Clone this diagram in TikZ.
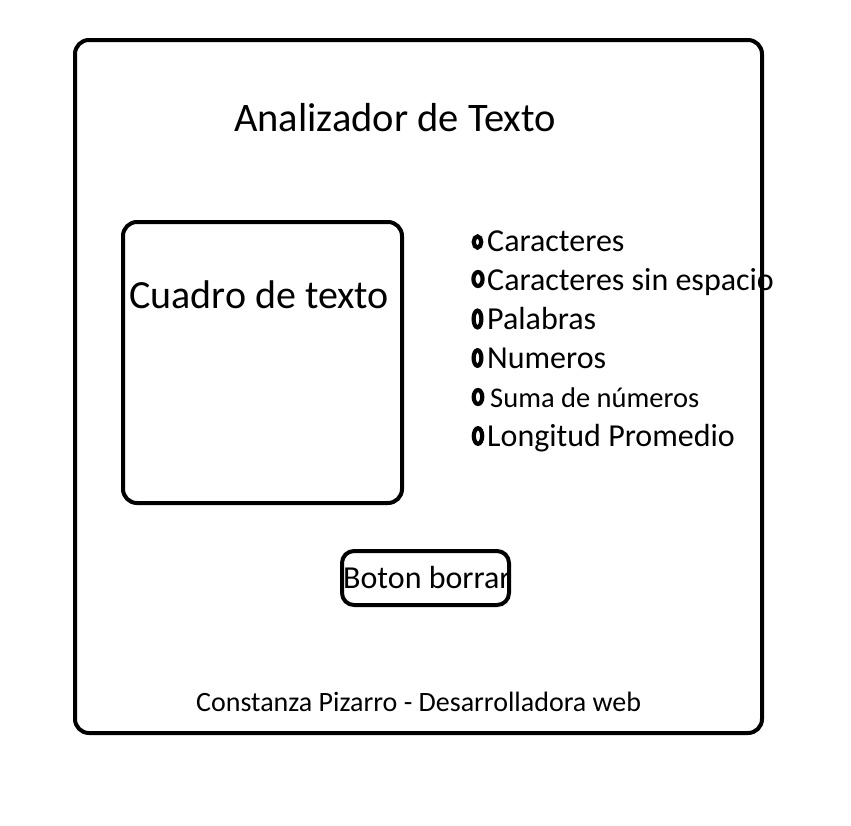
\documentclass[tikz,border=0pt]{standalone}
\usepackage{fontspec}
\setmainfont{Carlito}
\begin{document}
\begin{tikzpicture}[x=1pt,y=-1pt,
  frame/.style={draw=black,line width=4pt,rounded corners=14pt,outer sep=0pt},
  lbl/.style={anchor=base west,inner sep=0pt,font=\fontsize{32}{36}\selectfont},
  txt/.style={inner sep=0pt}]
\useasboundingbox (0,0) rectangle (851,825);
% texts that overflow borders drawn first
\node[lbl] (l2) at (487,290) {Caracteres sin espacio};
\node[txt,anchor=base west,font=\fontsize{32}{36}\selectfont] (btxt) at (343,588) {Boton borrar};
% outer frame
\node[frame,minimum width=687pt,minimum height=693pt,anchor=north west] (outer) at (75,40) {};
\node[txt,font=\fontsize{40.5}{46}\selectfont,anchor=base west] (title) at (234,131) {Analizador de Texto};
% text box
\node[frame,minimum width=279pt,minimum height=281pt,anchor=north west] (cuadro) at (123,222) {};
\node[txt,font=\fontsize{40}{46}\selectfont,anchor=base west] (ctxt) at (129,308) {Cuadro de texto};
% options
\node[lbl] (l1) at (487,251) {Caracteres};
\node[lbl] (l3) at (487,329) {Palabras};
\node[lbl] (l4) at (487,368) {Numeros};
\node[lbl,font=\fontsize{28.5}{32}\selectfont] (l5) at (490,407) {Suma de números};
\node[lbl] (l6) at (487,446) {Longitud Promedio};
\foreach \x/\y/\rx/\ry in {477.5/242/3.8/5.6,478/279/4.6/7,477.5/319/3.9/8.4,477.5/358/3.9/7.8,478/397/4.3/7,478/436/4.2/7.8}{
  \draw[line width=4.2pt] (\x,\y) ellipse [x radius=\rx, y radius=\ry];
}
% button
\node[frame,rounded corners=12pt,minimum width=167pt,minimum height=54pt,anchor=north west] (boton) at (342,551) {};
% footer
\node[txt,font=\fontsize{28}{32}\selectfont,anchor=base west] (footer) at (196,711) {Constanza Pizarro - Desarrolladora web};
\end{tikzpicture}
\end{document}
